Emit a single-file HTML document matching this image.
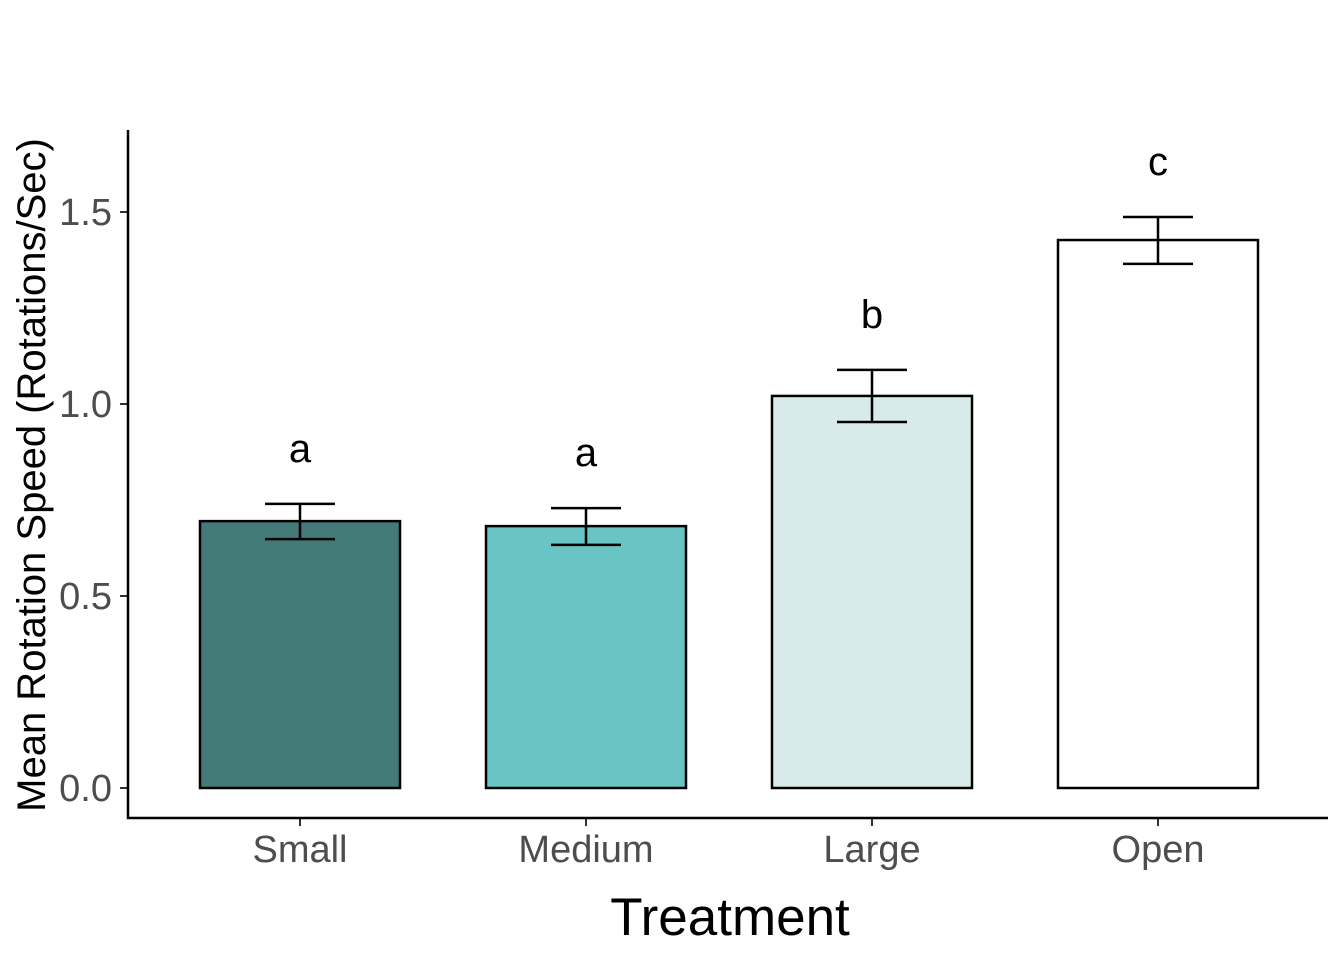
<!DOCTYPE html>
<html><head><meta charset="utf-8"><style>
body{margin:0;background:#fff}
svg{display:block;font-family:"Liberation Sans",Arial,sans-serif}
</style></head><body>
<svg id="chart" width="1344" height="960"></svg>
<script>
const categories=["Small","Medium","Large","Open"];
const means=[0.695,0.682,1.021,1.427];
const errUpper=[0.740,0.729,1.089,1.487];
const errLower=[0.648,0.633,0.953,1.365];
const letters=["a","a","b","c"];
const fills=["#447a78","#69c4c4","#d9eaea","#ffffff"];
const yTicks=[0,0.5,1.0,1.5];
const yTickLabels=["0.0","0.5","1.0","1.5"];

const NS="http://www.w3.org/2000/svg";
const svg=document.getElementById('chart');
const y=v=>788-v*384;
const x=i=>300+286*i;
function el(t,a,p){const e=document.createElementNS(NS,t);for(const k in a)e.setAttribute(k,a[k]);(p||svg).appendChild(e);return e;}

categories.forEach((c,i)=>{
  const g=el('g',{});
  
  
  const r=el('rect',{x:x(i)-100,y:y(means[i]),width:200,height:y(0)-y(means[i]),fill:fills[i],stroke:'#000','stroke-width':2.5},g);
  
  
  const eb=el('path',{d:`M${x(i)-35},${y(errUpper[i])}H${x(i)+35}M${x(i)},${y(errUpper[i])}V${y(errLower[i])}M${x(i)-35},${y(errLower[i])}H${x(i)+35}`,stroke:'#000','stroke-width':2.5,fill:'none'},g);
  
  
  const t=el('text',{x:x(i),y:y(errUpper[i])-42,'text-anchor':'middle','font-size':40,fill:'#000'},g);
  t.textContent=letters[i];
  
  
  const tk=el('line',{x1:x(i),x2:x(i),y1:818,y2:826,stroke:'#333','stroke-width':2});
  
  
  const lb=el('text',{x:x(i),y:862,'text-anchor':'middle','font-size':38,fill:'#4d4d4d'});
  lb.textContent=c;
  
  
});
yTicks.forEach((v,i)=>{
  const tk=el('line',{x1:120,x2:128,y1:y(v),y2:y(v),stroke:'#333','stroke-width':2});
  
  
  const lb=el('text',{x:112,y:y(v)+13,'text-anchor':'end','font-size':38,fill:'#4d4d4d'});
  lb.textContent=yTickLabels[i];
  
  
});
const ax=el('path',{d:'M128,130V818H1328',stroke:'#000','stroke-width':2.5,fill:'none'});


const xt=el('text',{x:730,y:935,'text-anchor':'middle','font-size':53,fill:'#000'});
xt.textContent='Treatment';


const yt=el('text',{x:0,y:0,'text-anchor':'middle','font-size':40,fill:'#000',transform:'translate(45,475) rotate(-90)'});
yt.textContent='Mean Rotation Speed (Rotations/Sec)';


</script>
</body></html>
